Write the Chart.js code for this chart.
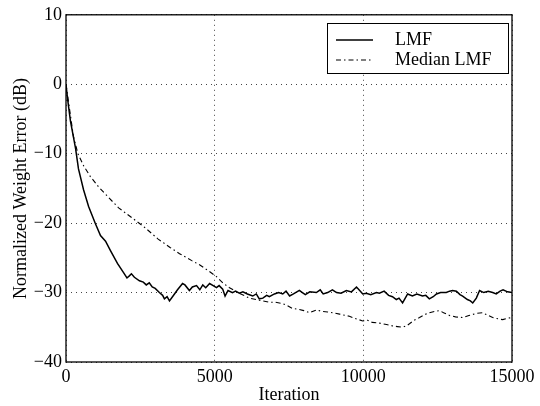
<!DOCTYPE html>
<html>
<head>
<meta charset="utf-8">
<script src="https://cdn.jsdelivr.net/npm/chart.js@4/dist/chart.umd.min.js"></script>
<style>
  html, body { margin: 0; padding: 0; background: #fff; }
  #wrap { width: 540px; height: 406px; }
</style>
</head>
<body>
<div id="wrap"><canvas id="chart" width="540" height="406"></canvas></div>
<script>
// data (iteration, dB)
const lmfIter = [0, 50, 150, 320, 420, 590, 760, 990, 1160, 1330, 1500, 1730, 1930, 2050, 2130, 2200, 2300, 2470, 2600, 2700,
  2800, 2900, 3000, 3140, 3250, 3310, 3400, 3480, 3600, 3750, 3920, 4000, 4150, 4250, 4390, 4500, 4600, 4700, 4830, 4950,
  5060, 5150, 5270, 5350, 5450, 5600, 5700, 5830, 5950, 6100, 6280, 6400, 6500, 6620, 6750, 6840, 7010, 7150, 7290, 7400,
  7520, 7650, 7850, 7950, 8050, 8200, 8420, 8550, 8650, 8800, 8960, 9100, 9250, 9430, 9600, 9770, 9900, 9980, 10100, 10250,
  10440, 10540, 10700, 10850, 10980, 11110, 11200, 11320, 11490, 11650, 11800, 11990, 12100, 12220, 12350, 12460, 12600, 12790, 12900, 13000,
  13130, 13250, 13340, 13500, 13600, 13680, 13800, 13910, 14050, 14200, 14350, 14470, 14600, 14700, 14850, 15000];
const lmfDb = [0, -2, -5.3, -9.2, -12.2, -15.2, -17.6, -20.1, -21.8, -22.6, -24, -25.8, -27.1, -27.9, -27.6, -27.3, -27.8, -28.3, -28.5, -28.9,
  -28.6, -29.2, -29.4, -30, -30.4, -30.9, -30.6, -31.2, -30.5, -29.6, -28.7, -28.9, -29.7, -29.2, -29.0, -29.6, -28.9, -29.3, -28.7, -29.0,
  -29.3, -29.0, -29.5, -30.5, -29.7, -30.0, -29.8, -30.1, -29.9, -30.2, -30.5, -30.2, -30.9, -30.8, -30.4, -30.6, -30.2, -30.0, -30.2, -29.8,
  -30.5, -30.2, -29.7, -30.0, -30.3, -29.9, -30.0, -29.6, -30.2, -30.0, -29.6, -30.0, -30.1, -29.7, -29.9, -29.2, -29.8, -30.2, -30.1, -30.3,
  -30.0, -30.1, -29.8, -30.4, -30.6, -31.0, -30.8, -31.5, -30.2, -30.5, -30.2, -30.5, -30.4, -30.9, -30.6, -30.2, -30.0, -30.0, -29.8, -29.7,
  -29.8, -30.3, -30.5, -31.0, -31.2, -31.5, -30.8, -29.7, -30.0, -29.8, -30.0, -30.2, -29.8, -29.6, -29.9, -30.0];

const medIter = [0, 100, 250, 400, 600, 820, 1100, 1430, 1770, 2240, 2670, 3100, 3500, 3820, 4230, 4490, 4800, 5060, 5300, 5500,
  5830, 6170, 6500, 6840, 7050, 7290, 7450, 7620, 7820, 8000, 8190, 8420, 8600, 8800, 8960, 9200, 9400, 9530, 9700, 9850,
  9980, 10150, 10300, 10540, 10780, 10980, 11150, 11320, 11450, 11550, 11700, 11890, 12050, 12220, 12400, 12560, 12700, 12900, 13100, 13340,
  13550, 13810, 14010, 14200, 14350, 14550, 14690, 14850, 15000];
const medDb = [0, -3.0, -7.5, -10.0, -11.8, -13.3, -14.8, -16.3, -17.8, -19.3, -20.7, -22.3, -23.5, -24.4, -25.4, -26.0, -26.9, -27.7, -28.7, -29.3,
  -30.1, -30.8, -31.1, -31.4, -31.4, -31.6, -31.9, -32.3, -32.4, -32.6, -32.9, -32.5, -32.7, -32.8, -32.9, -33.1, -33.3, -33.4, -33.7, -33.9,
  -34.1, -34.0, -34.3, -34.4, -34.6, -34.8, -34.9, -35.0, -34.8, -34.5, -34.0, -33.6, -33.2, -32.9, -32.7, -32.6, -32.9, -33.3, -33.5, -33.6,
  -33.3, -33.0, -32.9, -33.3, -33.6, -33.8, -33.9, -33.7, -33.6];

const seriesNames = ['LMF', 'Median LMF'];
const xTicks = [0, 5000, 10000, 15000];
const yTicks = [10, 0, -10, -20, -30, -40];

const FONT = 'Liberation Serif';

function toPoints(xs, ys) {
  return xs.map((x, i) => ({ x: x, y: ys[i] }));
}

// box around the plot and the legend in the upper right
const frameAndLegend = {
  id: 'frameAndLegend',
  afterDraw(chart) {
    const ctx = chart.ctx;
    const a = chart.chartArea;
    ctx.save();
    ctx.strokeStyle = '#000';
    ctx.lineWidth = 1.3;
    ctx.setLineDash([]);
    ctx.strokeRect(a.left, a.top, a.right - a.left, a.bottom - a.top);

    const bx = 327, by = 23, bw = 181, bh = 50;
    ctx.fillStyle = '#fff';
    ctx.fillRect(bx, by, bw, bh);
    ctx.lineWidth = 1;
    ctx.strokeRect(bx + 0.5, by + 0.5, bw, bh);

    ctx.font = '18px "' + FONT + '"';
    ctx.textBaseline = 'middle';
    ctx.fillStyle = '#000';
    chart.data.datasets.forEach((ds, i) => {
      const yy = by + 17 + i * 20;
      ctx.strokeStyle = ds.borderColor;
      ctx.lineWidth = ds.borderWidth;
      ctx.setLineDash(ds.borderDash || []);
      ctx.beginPath();
      ctx.moveTo(bx + 9, yy);
      ctx.lineTo(bx + 46, yy);
      ctx.stroke();
      ctx.setLineDash([]);
      ctx.fillText(ds.label, bx + 68, yy);
    });
    ctx.restore();
  }
};

new Chart(document.getElementById('chart'), {
  type: 'line',
  data: {
    datasets: [{
      label: seriesNames[0],
      data: toPoints(lmfIter, lmfDb),
      borderColor: '#000',
      borderWidth: 1.5,
      pointRadius: 0,
      tension: 0
    }, {
      label: seriesNames[1],
      data: toPoints(medIter, medDb),
      borderColor: '#000',
      borderWidth: 1.1,
      borderDash: [5, 3, 1.5, 3],
      pointRadius: 0,
      tension: 0
    }]
  },
  options: {
    responsive: false,
    animation: false,
    layout: { padding: { top: 14, right: 28, left: 0, bottom: 0 } },
    plugins: {
      legend: { display: false },
      tooltip: { enabled: false }
    },
    scales: {
      x: {
        type: 'linear',
        min: 0,
        max: 15000,
        afterBuildTicks: axis => { axis.ticks = xTicks.map(v => ({ value: v })); },
        afterFit: axis => { axis.height = 44; },
        ticks: {
          color: '#000',
          padding: 4,
          maxRotation: 0,
          font: { family: FONT, size: 18 },
          callback: v => String(v)
        },
        grid: {
          color: '#444',
          lineWidth: 1,
          drawTicks: false
        },
        border: { display: false, dash: [1, 4] },
        title: {
          display: true,
          text: 'Iteration',
          color: '#000',
          padding: { top: 0, bottom: 0 },
          font: { family: FONT, size: 18 }
        }
      },
      y: {
        min: -40,
        max: 10,
        afterBuildTicks: axis => { axis.ticks = yTicks.map(v => ({ value: v })); },
        afterFit: axis => { axis.width = 66; },
        ticks: {
          color: '#000',
          padding: 4,
          font: { family: FONT, size: 18 },
          callback: v => String(v).replace('-', '\u2212')
        },
        grid: {
          color: '#444',
          lineWidth: 1,
          drawTicks: false
        },
        border: { display: false, dash: [1, 4] },
        title: {
          display: true,
          text: 'Normalized Weight Error (dB)',
          color: '#000',
          padding: { top: 10, bottom: 0 },
          font: { family: FONT, size: 18 }
        }
      }
    }
  },
  plugins: [frameAndLegend]
});
</script>
</body>
</html>
